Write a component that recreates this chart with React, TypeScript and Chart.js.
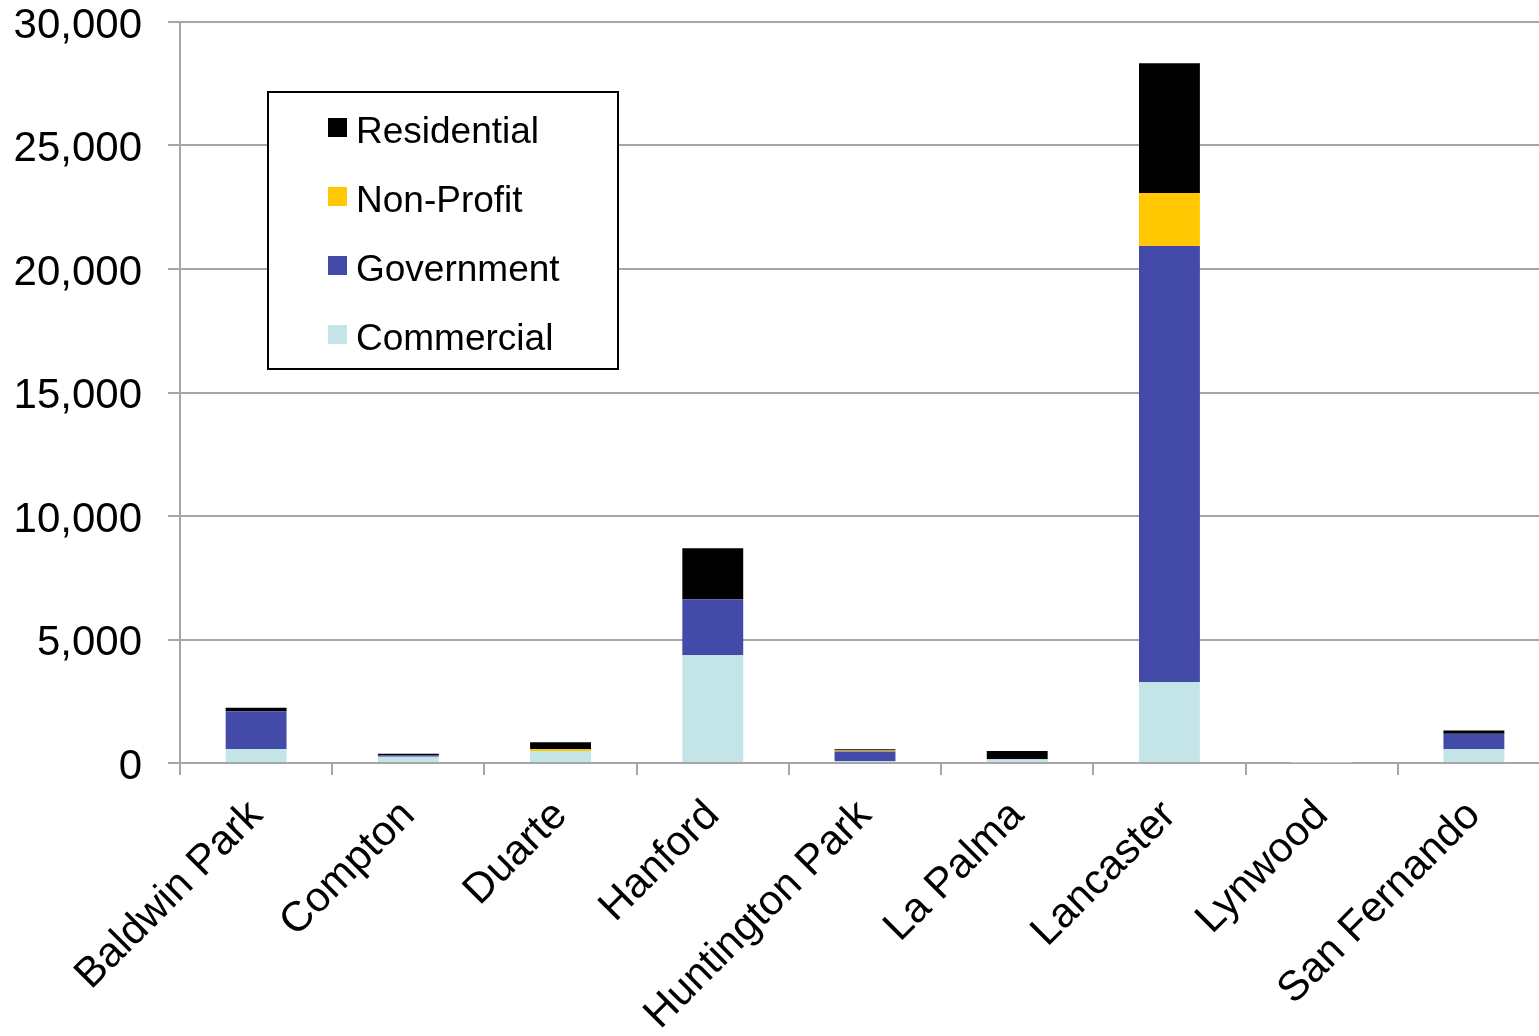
import React, { useEffect, useRef } from "react";
import { Chart, registerables } from "chart.js";

Chart.register(...registerables);

const categories = [
  "Baldwin Park",
  "Compton",
  "Duarte",
  "Hanford",
  "Huntington Park",
  "La Palma",
  "Lancaster",
  "Lynwood",
  "San Fernando",
];

const commercial = [570, 250, 490, 4360, 70, 150, 3280, 20, 555];
const government = [1530, 50, 0, 2270, 400, 0, 17650, 0, 630];
const nonProfit = [0, 0, 80, 0, 40, 0, 2150, 0, 0];
const residential = [140, 70, 270, 2060, 45, 340, 5250, 0, 135];

const yTicks = [0, 5000, 10000, 15000, 20000, 25000, 30000];

const FONT = '"Liberation Sans", Arial, sans-serif';
const GRID = "#a6a6a6";

const legendItems = [
  { label: "Residential", color: "#000000" },
  { label: "Non-Profit", color: "#ffc800" },
  { label: "Government", color: "#434aa8" },
  { label: "Commercial", color: "#c3e5e8" },
];

const legendPlugin = {
  id: "boxLegend",
  afterDraw(chart: any) {
    const ctx = chart.ctx as CanvasRenderingContext2D;
    ctx.save();
    ctx.fillStyle = "#ffffff";
    ctx.fillRect(268, 92, 350, 277);
    ctx.strokeStyle = "#000000";
    ctx.lineWidth = 2;
    ctx.strokeRect(268, 92, 350, 277);
    ctx.font = `37px ${FONT}`;
    ctx.textBaseline = "middle";
    ctx.textAlign = "left";
    legendItems.forEach((it, i) => {
      const cy = 128 + i * 69;
      ctx.fillStyle = it.color;
      ctx.fillRect(328, cy - 10, 19, 19);
      ctx.fillStyle = "#000000";
      ctx.fillText(it.label, 356, cy + 5);
    });
    ctx.restore();
  },
};

export default function App() {
  const ref = useRef<HTMLCanvasElement | null>(null);

  useEffect(() => {
    document.body.style.margin = "0";
    document.body.style.overflow = "hidden";
    if (!ref.current) return;
    const chart = new Chart(ref.current, {
      type: "bar",
      data: {
        labels: categories,
        datasets: [
          { label: "Commercial", data: commercial, backgroundColor: "#c3e5e8" },
          { label: "Government", data: government, backgroundColor: "#434aa8" },
          { label: "Non-Profit", data: nonProfit, backgroundColor: "#ffc800" },
          { label: "Residential", data: residential, backgroundColor: "#000000" },
        ].map((d) => ({
          ...d,
          barPercentage: 0.4,
          categoryPercentage: 1,
          borderWidth: 0,
        })),
      },
      options: {
        responsive: false,
        animation: false,
        layout: { padding: { top: 22, right: 0, left: 0, bottom: 0 } },
        plugins: {
          legend: { display: false },
          tooltip: { enabled: false },
        },
        scales: {
          x: {
            stacked: true,
            grid: {
              display: true,
              drawOnChartArea: false,
              drawTicks: true,
              tickLength: 12,
              color: GRID,
              lineWidth: 2,
              offset: true,
            },
            border: { display: true, color: GRID, width: 2 },
            ticks: {
              minRotation: 45,
              maxRotation: 45,
              autoSkip: false,
              padding: 16,
              color: "#000000",
              font: { family: FONT, size: 42 },
            },
            afterFit: (scale: any) => {
              scale.height = 273;
              scale.paddingLeft = 0;
              scale.paddingRight = 0;
            },
          },
          y: {
            stacked: true,
            min: 0,
            max: 30000,
            afterBuildTicks: (scale: any) => {
              scale.ticks = yTicks.map((v) => ({ value: v }));
            },
            grid: {
              color: GRID,
              lineWidth: 2,
              drawTicks: true,
              tickLength: 12,
            },
            border: { display: true, color: GRID, width: 2 },
            ticks: {
              padding: 26,
              labelOffset: 4,
              color: "#000000",
              font: { family: FONT, size: 42 },
              callback: (v: any) => Number(v).toLocaleString("en-US"),
            },
            afterFit: (scale: any) => {
              scale.width = 180;
              scale.paddingTop = 0;
              scale.paddingBottom = 0;
            },
          },
        },
      },
      plugins: [legendPlugin],
    });
    return () => chart.destroy();
  }, []);

  return (
    <div style={{ width: 1539, height: 1036, overflow: "hidden" }}>
      <canvas ref={ref} width={1550} height={1036} style={{ display: "block" }} />
    </div>
  );
}
